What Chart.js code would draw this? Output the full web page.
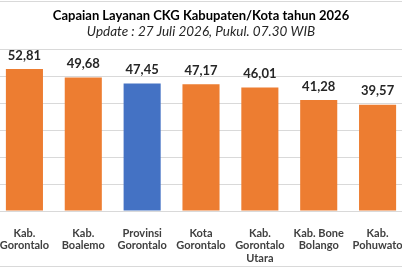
<!DOCTYPE html>
<html>
<head>
<meta charset="utf-8">
<script src="https://cdn.jsdelivr.net/npm/chart.js@4/dist/chart.umd.min.js"></script>
<style>
  html, body { margin: 0; padding: 0; background: #fff; overflow: hidden; }
  #wrap { position: absolute; left: -5px; top: 0; width: 412px; height: 268px; }
</style>
</head>
<body>
<div id="wrap"><canvas id="CkgChart"></canvas></div>
<script>
const Regions = [
  ["Kab.", "Gorontalo"],
  ["Kab.", "Boalemo"],
  ["Provinsi", "Gorontalo"],
  ["Kota", "Gorontalo"],
  ["Kab.", "Gorontalo", "Utara"],
  ["Kab. Bone", "Bolango"],
  ["Kab.", "Pohuwato"],
];
const Capaian = [52.81, 49.68, 47.45, 47.17, 46.01, 41.28, 39.57];
const BarColors = ["#ED7D31", "#ED7D31", "#4472C4", "#ED7D31", "#ED7D31", "#ED7D31", "#ED7D31"];
const TitleText = "Capaian Layanan CKG Kabupaten/Kota tahun 2026";
const SubtitleText = "Update : 27 Juli 2026, Pukul. 07.30 WIB";

const fontName = "Lato, 'Open Sans', sans-serif";

// draws the value above each bar + the thin frame lines
const valueLabels = {
  id: "valueLabels",
  afterDatasetsDraw(chart) {
    const c = chart.ctx;
    const meta = chart.getDatasetMeta(0);
    c.save();
    c.font = "bold 13px " + fontName;
    c.fillStyle = "#262626";
    c.textAlign = "center";
    c.textBaseline = "bottom";
    meta.data.forEach((bar, i) => {
      c.fillText(Capaian[i].toFixed(2).replace(".", ","), bar.x, bar.y - 7);
    });
    c.strokeStyle = "#d9d9d9";
    c.lineWidth = 1;
    c.beginPath();
    c.moveTo(0, 1.5);
    c.lineTo(chart.width, 1.5);
    c.moveTo(0, 266.5);
    c.lineTo(chart.width, 266.5);
    c.stroke();
    c.restore();
  },
};

const ctx = document.getElementById("CkgChart").getContext("2d");
new Chart(ctx, {
  type: "bar",
  data: {
    labels: Regions,
    datasets: [
      {
        data: Capaian,
        backgroundColor: BarColors,
        borderWidth: 0,
        categoryPercentage: 1,
        barPercentage: 0.63,
      },
    ],
  },
  options: {
    responsive: true,
    maintainAspectRatio: false,
    animation: false,
    layout: { padding: 0 },
    plugins: {
      legend: { display: false },
      tooltip: { enabled: false },
      title: {
        display: true,
        text: TitleText,
        color: "#000",
        font: { family: fontName, size: 13, weight: "bold" },
        padding: { top: 8, bottom: 0 },
      },
      subtitle: {
        display: true,
        text: SubtitleText,
        color: "#262626",
        font: { family: fontName, size: 13.5, style: "italic" },
        padding: { top: 0, bottom: 10 },
      },
    },
    scales: {
      x: {
        grid: { display: false },
        border: { display: false },
        afterFit: (scale) => {
          scale.height = 57;
          scale.paddingLeft = 0;
          scale.paddingRight = 0;
        },
        ticks: {
          color: "#404040",
          font: { family: fontName, size: 11, weight: "bold", lineHeight: 1.13 },
          padding: 8,
          maxRotation: 0,
          autoSkip: false,
        },
      },
      y: {
        min: 0,
        max: 60,
        afterFit: (scale) => { scale.width = 0; },
        ticks: { display: false, stepSize: 10 },
        border: { display: false },
        grid: { color: "#d9d9d9", drawTicks: false },
      },
    },
  },
  plugins: [valueLabels],
});
</script>
</body>
</html>
